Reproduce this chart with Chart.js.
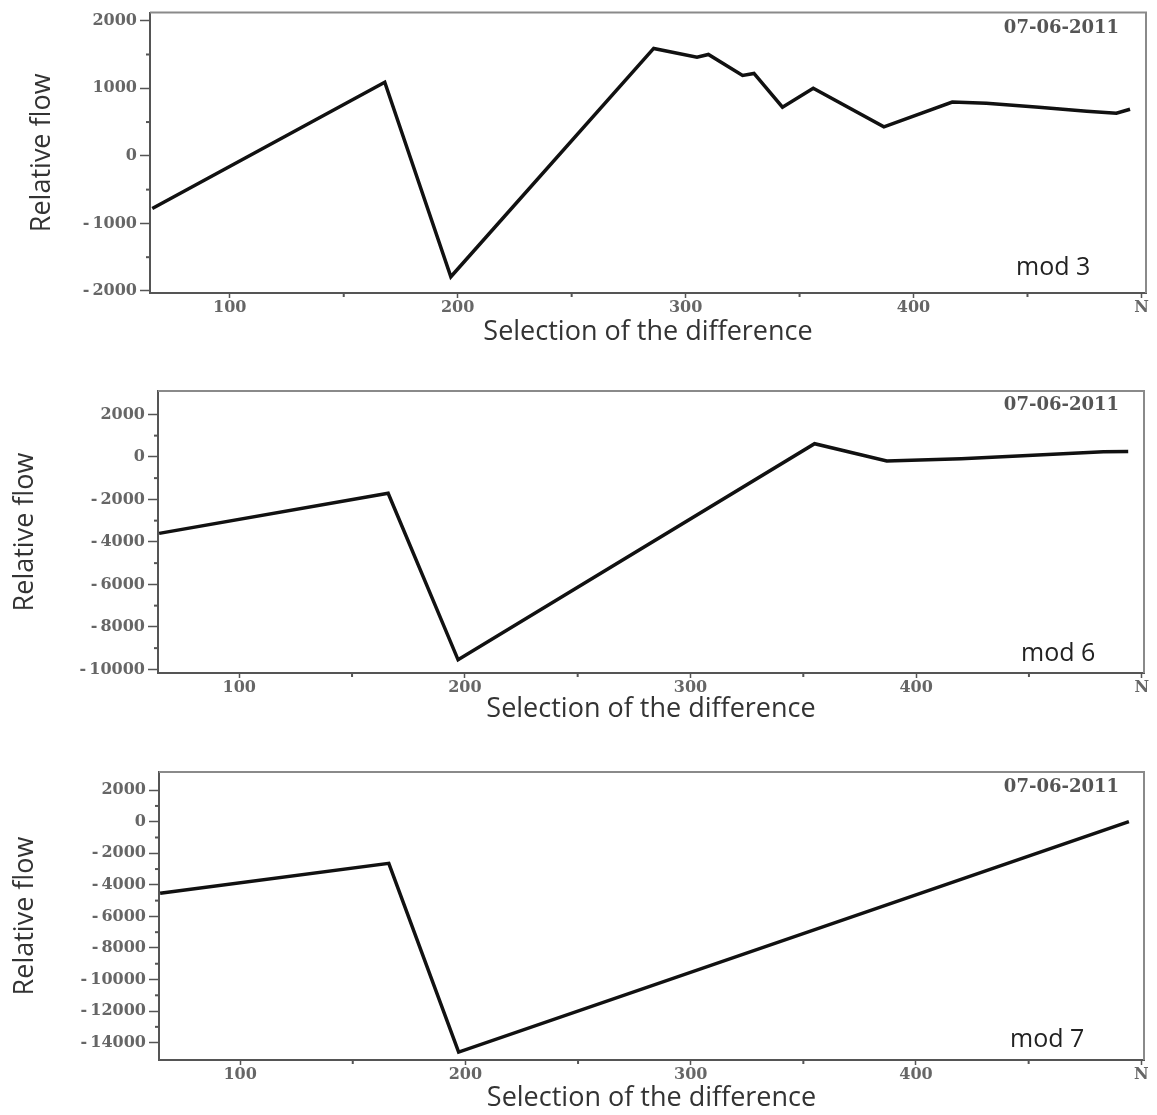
<!DOCTYPE html>
<html>
<head>
<meta charset="utf-8">
<title>Relative flow — mod 3 / 6 / 7</title>
<script src="https://cdn.jsdelivr.net/npm/chart.js@4.4.1/dist/chart.umd.min.js"></script>
<style>
  html, body { margin: 0; padding: 0; background: #fff; }
  body { width: 1157px; height: 1115px; position: relative; overflow: hidden; }
  canvas { position: absolute; left: 0; }
</style>
</head>
<body>
<canvas id="c-mod3" width="1157" height="365" style="top:0px"></canvas>
<canvas id="c-mod6" width="1157" height="360" style="top:375px"></canvas>
<canvas id="c-mod7" width="1157" height="361" style="top:754px"></canvas>

<script>
// ─── DATA ─────────────────────────────────────────────────────────────────────
const dateLabel = '07-06-2011';

const mod3X = [66, 168, 197, 286, 305, 310, 325, 330, 342.5, 356, 387, 417, 432, 455, 476, 489, 495];
const mod3Y = [-780, 1090, -1790, 1590, 1460, 1500, 1190, 1220, 720, 1000, 430, 795, 780, 720, 660, 630, 690];

const mod6X = [64.5, 166, 197, 355, 387, 420, 445, 483, 494];
const mod6Y = [-3600, -1710, -9550, 620, -190, -90, 40, 240, 250];

const mod7X = [64.5, 166, 197, 494.5];
const mod7Y = [-4540, -2640, -14600, 0];

const xTicks = [100, 200, 300, 400, 500];
const xMinor = [150, 250, 350, 450];

const yTicks3 = [-2000, -1000, 0, 1000, 2000];
const yMinor3 = [-1500, -500, 500, 1500];
const yTicks6 = [-10000, -8000, -6000, -4000, -2000, 0, 2000];
const yMinor6 = [-9000, -7000, -5000, -3000, -1000, 1000];
const yTicks7 = [-14000, -12000, -10000, -8000, -6000, -4000, -2000, 0, 2000];
const yMinor7 = [-13000, -11000, -9000, -7000, -5000, -3000, -1000, 1000];

// ─── STYLE ────────────────────────────────────────────────────────────────────
const tickFont = { family: "'DejaVu Serif', serif", size: 16, weight: 'bold' };
const titleFont = { family: "'Open Sans', sans-serif", size: 27 };

const fmtY = v => v < 0 ? '-\u2009' + Math.abs(v) : String(v);

// ─── CHART FACTORY ────────────────────────────────────────────────────────────
function makeChart(id, p) {
    // box top/right edges, minor tick dots, date + mod stamps
    const frame = {
        id: 'frame',
        afterDraw(chart) {
            const { ctx, chartArea: a, scales: { x, y } } = chart;
            ctx.save();
            ctx.strokeStyle = '#8a8a8a';
            ctx.lineWidth = 2;
            ctx.beginPath();
            ctx.moveTo(a.left, a.top);
            ctx.lineTo(a.right, a.top);
            ctx.lineTo(a.right, a.bottom);
            ctx.stroke();

            ctx.fillStyle = '#555';
            xMinor.forEach(v => ctx.fillRect(x.getPixelForValue(v) - 1, a.bottom + 1, 2, 3));
            p.yMinor.forEach(v => ctx.fillRect(a.left - 4, y.getPixelForValue(v) - 1, 3, 2));

            ctx.textBaseline = 'middle';
            ctx.fillStyle = '#555';
            ctx.font = "bold 18px 'DejaVu Serif', serif";
            ctx.textAlign = 'right';
            ctx.fillText(dateLabel, a.right - p.dateDx, a.top + p.dateDy);

            ctx.fillStyle = '#222';
            ctx.font = "25px 'Open Sans', sans-serif";
            ctx.textAlign = 'left';
            ctx.fillText(p.mod, a.right - p.modDx, a.bottom - p.modDy);
            ctx.restore();
        }
    };

    return new Chart(document.getElementById(id), {
        type: 'line',
        data: {
            datasets: [{
                data: p.xs.map((x, i) => ({ x, y: p.ys[i] })),
                borderColor: '#111',
                borderWidth: 3.5,
                pointRadius: 0,
                tension: 0,
                fill: false
            }]
        },
        options: {
            responsive: false,
            animation: false,
            events: [],
            layout: { padding: p.pad },
            plugins: { legend: { display: false }, tooltip: { enabled: false } },
            scales: {
                x: {
                    type: 'linear',
                    min: p.xMin,
                    max: p.xMax,
                    afterBuildTicks: s => { s.ticks = xTicks.map(v => ({ value: v })); },
                    afterFit: s => { s.height = p.xH; },
                    ticks: {
                        callback: v => v === 500 ? 'N' : String(v),
                        font: tickFont, color: '#666', padding: 0,
                        maxRotation: 0, autoSkip: false
                    },
                    grid: { drawOnChartArea: false, tickLength: 5, tickColor: '#555', tickWidth: 1.5 },
                    border: { color: '#555', width: 2 },
                    title: { display: true, text: 'Selection of the difference', font: titleFont, color: '#333', padding: 0 }
                },
                y: {
                    min: p.yMin,
                    max: p.yMax,
                    afterBuildTicks: s => { s.ticks = p.yTicks.map(v => ({ value: v })); },
                    afterFit: s => { s.width = p.yW; },
                    ticks: { callback: fmtY, font: tickFont, color: '#666', padding: 3, autoSkip: false },
                    grid: { drawOnChartArea: false, tickLength: 10, tickColor: '#555', tickWidth: 1.5 },
                    border: { color: '#555', width: 2 },
                    title: { display: true, text: 'Relative flow', font: titleFont, color: '#333', padding: { top: p.yTitlePad, bottom: 0 } }
                }
            }
        },
        plugins: [frame]
    });
}

// ─── CHARTS ───────────────────────────────────────────────────────────────────
makeChart('c-mod3', {
    xs: mod3X, ys: mod3Y, mod: 'mod 3',
    xMin: 65, xMax: 502, yMin: -2030, yMax: 2120,
    yTicks: yTicks3, yMinor: yMinor3,
    pad: { left: 20, top: 11, right: 11, bottom: 16 },
    yW: 130, xH: 56, yTitlePad: 6,
    dateDx: 27, dateDy: 16, modDx: 130, modDy: 25
});

makeChart('c-mod6', {
    xs: mod6X, ys: mod6Y, mod: 'mod 6',
    xMin: 64, xMax: 501, yMin: -10170, yMax: 3100,
    yTicks: yTicks6, yMinor: yMinor6,
    pad: { left: 6, top: 16, right: 13, bottom: 9 },
    yW: 152, xH: 53, yTitlePad: 3,
    dateDx: 25, dateDy: 14, modDx: 123, modDy: 19
});

makeChart('c-mod7', {
    xs: mod7X, ys: mod7Y, mod: 'mod 7',
    xMin: 64, xMax: 501.2, yMin: -15100, yMax: 3150,
    yTicks: yTicks7, yMinor: yMinor7,
    pad: { left: 6, top: 18, right: 13, bottom: 0 },
    yW: 153, xH: 55, yTitlePad: 3,
    dateDx: 25, dateDy: 15, modDx: 134, modDy: 20
});
</script>
</body>
</html>
